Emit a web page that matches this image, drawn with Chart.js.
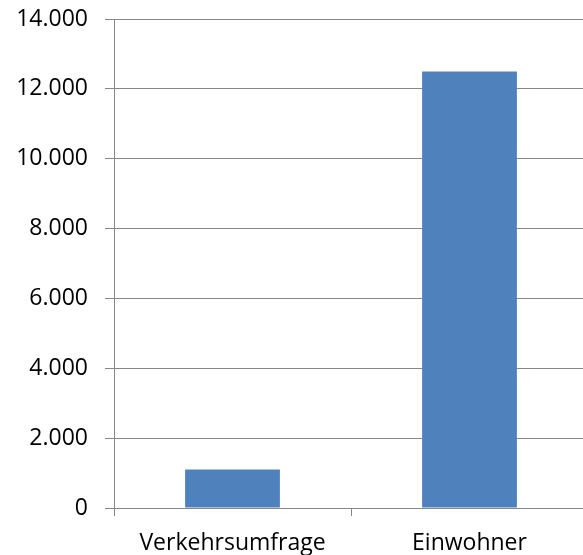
<!DOCTYPE html>
<html>
<head>
<meta charset="utf-8">
<script src="https://cdn.jsdelivr.net/npm/chart.js@4/dist/chart.umd.min.js"></script>
<style>
  html, body { margin: 0; padding: 0; background: #fff; overflow: hidden; }
  #wrap { width: 592px; height: 555px; position: relative; }
</style>
</head>
<body>
<div id="wrap"><canvas id="chart"></canvas></div>
<script>
// ======================= DATA =======================
const categories = ['Verkehrsumfrage', 'Einwohner'];
const values = [1100, 12500];
const yTicks = [0, 2000, 4000, 6000, 8000, 10000, 12000, 14000];

const axisColor = '#888888';
const barColor = '#4F81BD';

const fmt = (v) => v.toLocaleString('de-DE');

function renderBarChart(canvasId) {
  const ctx = document.getElementById(canvasId);
  if (!ctx) {
    console.warn(`Canvas element ${canvasId} not found`);
    return null;
  }

  return new Chart(ctx, {
    type: 'bar',
    data: {
      labels: categories,
      datasets: [
        {
          data: values,
          backgroundColor: barColor,
          categoryPercentage: 0.4,
          barPercentage: 1
        }
      ]
    },
    options: {
      responsive: true,
      maintainAspectRatio: false,
      animation: false,
      layout: { padding: { top: 19, right: 4, bottom: 0, left: 0 } },
      plugins: {
        legend: { display: false },
        tooltip: { enabled: false }
      },
      scales: {
        y: {
          min: 0,
          max: 14000,
          afterBuildTicks: (axis) => {
            axis.ticks = yTicks.map((v) => ({ value: v }));
          },
          afterFit: (axis) => {
            axis.width = 114;
            axis.paddingTop = 0;
            axis.paddingBottom = 0;
          },
          border: { color: axisColor, width: 1 },
          grid: { color: axisColor, lineWidth: 1, tickLength: 9 },
          ticks: {
            color: '#000',
            padding: 17,
            font: { family: '"Open Sans"', size: 23 },
            callback: (value) => fmt(value)
          }
        },
        x: {
          offset: true,
          afterFit: (axis) => { axis.height = 47; },
          border: { color: axisColor, width: 1 },
          grid: {
            offset: true,
            color: axisColor,
            drawOnChartArea: false,
            tickLength: 8
          },
          ticks: {
            color: '#000',
            padding: 14,
            maxRotation: 0,
            font: { family: '"Open Sans"', size: 23 }
          }
        }
      }
    }
  });
}

renderBarChart('chart');
</script>
</body>
</html>
